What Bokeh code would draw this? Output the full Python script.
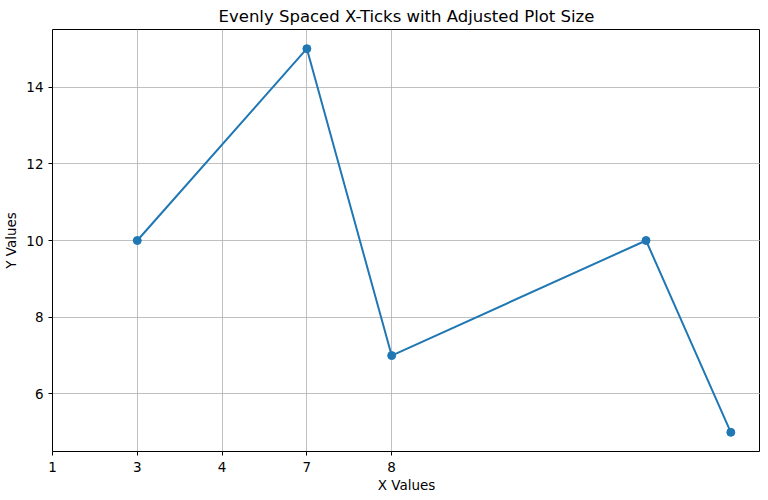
from bokeh.plotting import figure
from bokeh.models import FixedTicker, Range1d
from bokeh.embed import file_html
from bokeh.resources import INLINE

x_values = [1, 3, 4, 7, 8]
y_values = [10, 15, 7, 10, 5]
tick_positions = [0, 1, 2, 3, 4]
tick_labels = ["1", "3", "4", "7", "8"]
y_ticks = [6, 8, 10, 12, 14]

FONT = "DejaVu Sans"
BLUE = "#1f77b4"

p = figure(frame_width=708, frame_height=422, output_backend="svg", toolbar_location=None,
           x_range=Range1d(0, 8.35), y_range=Range1d(4.5, 15.5),
           min_border_left=0, min_border_right=0, min_border_top=0, min_border_bottom=0,
           title="Evenly Spaced X-Ticks with Adjusted Plot Size")

p.title.text_font = FONT
p.title.text_font_size = "16.5px"
p.title.text_font_style = "normal"
p.title.align = "center"
p.title.text_color = "#000000"
p.title.standoff = 8

p.line(x_values, y_values, line_color=BLUE, line_width=2)
p.scatter(x_values, y_values, size=8, fill_color=BLUE, line_color=BLUE)

p.xaxis.ticker = FixedTicker(ticks=tick_positions)
p.xaxis.major_label_overrides = {pos: lab for pos, lab in zip(tick_positions, tick_labels)}
p.yaxis.ticker = FixedTicker(ticks=y_ticks)

p.xaxis.axis_label = "X Values"
p.yaxis.axis_label = "Y Values"

for ax in (p.xaxis[0], p.yaxis[0]):
    ax.axis_label_text_font = FONT
    ax.axis_label_text_font_size = "13.5px"
    ax.axis_label_text_font_style = "normal"
    ax.axis_label_text_color = "#000000"
    ax.major_label_text_font = FONT
    ax.major_label_text_font_size = "13.5px"
    ax.major_label_text_color = "#000000"
    ax.axis_line_color = None
    ax.major_tick_line_color = "#000000"
    ax.major_tick_in = 0
    ax.major_tick_out = 4
    ax.minor_tick_line_color = None

p.xaxis[0].major_label_standoff = 6
p.xaxis[0].axis_label_standoff = 2
p.yaxis[0].major_label_standoff = 5
p.yaxis[0].axis_label_standoff = 4

p.xgrid.ticker = FixedTicker(ticks=tick_positions)
p.ygrid.ticker = FixedTicker(ticks=y_ticks)
p.grid.grid_line_color = "#b0b0b0"
p.grid.grid_line_width = 0.8

p.outline_line_color = "#000000"
p.outline_line_width = 1
p.background_fill_color = "white"
p.border_fill_color = "white"

open("out.html", "w").write(file_html(p, INLINE))
